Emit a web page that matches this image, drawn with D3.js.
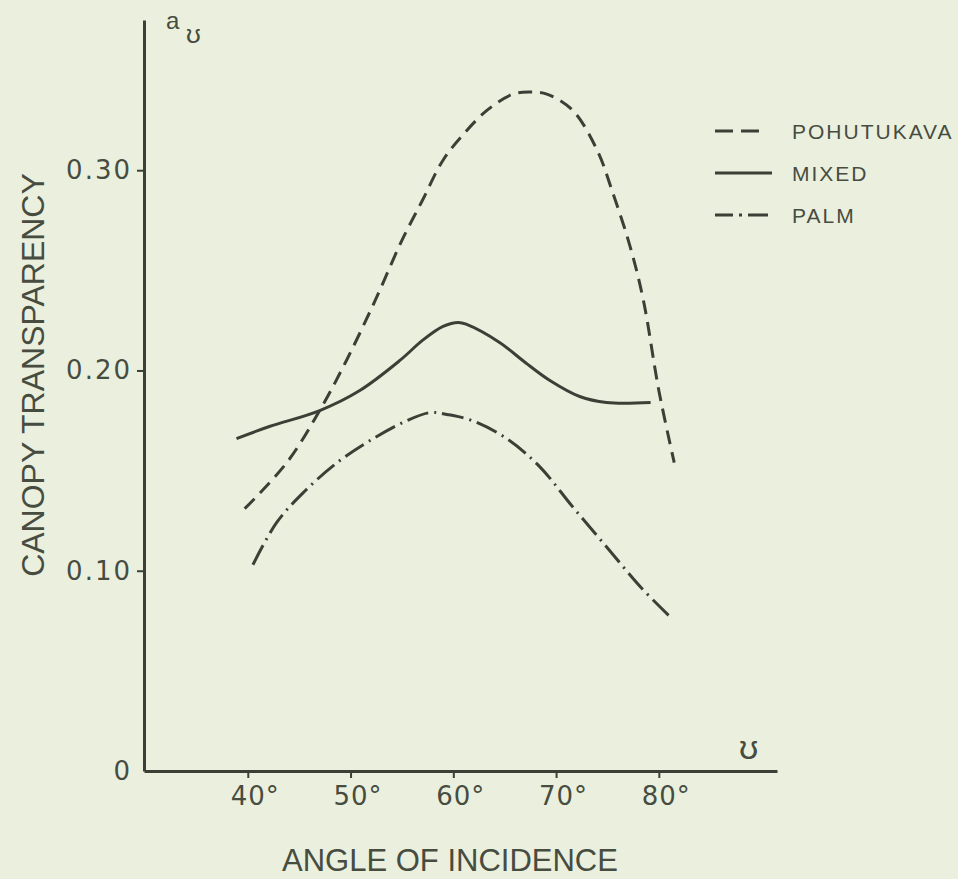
<!DOCTYPE html>
<meta charset="utf-8">
<script src="https://d3js.org/d3.v7.min.js"></script>
<style>
  body { margin: 0; background: #eaf0dd; }
  text { font-family: "Liberation Sans", Arial, sans-serif; fill: #474c41; }
</style>
<div id="my_dataviz"></div>
<script>

  // tick labels
  var xTicks = [40, 50, 60, 70, 80]
  var yTicks = [0, 0.10, 0.20, 0.30]
  var yTickLabels = ["0", "0.10", "0.20", "0.30"]

  // series names (legend order)
  var seriesNames = ["POHUTUKAVA", "MIXED", "PALM"]

  // angle (deg) and canopy transparency
  var pohutukavaAngle = [39.7, 43.8, 47, 49.6, 52.4, 55, 57, 59, 61, 63.3, 65.8, 67.4, 69.1, 71.6, 74, 75.5, 77.2, 78.5, 80, 81.5]
  var pohutukavaValue = [0.131, 0.154, 0.180, 0.205, 0.235, 0.265, 0.285, 0.305, 0.318, 0.330, 0.338, 0.339, 0.338, 0.330, 0.310, 0.289, 0.262, 0.235, 0.190, 0.154]

  var mixedAngle = [38.9, 42.1, 47, 50.9, 54.8, 57, 59, 60.5, 61.3, 64.5, 67, 69.4, 72.3, 74.9, 79.2]
  var mixedValue = [0.166, 0.172, 0.180, 0.190, 0.205, 0.215, 0.222, 0.224, 0.223, 0.214, 0.204, 0.195, 0.187, 0.184, 0.184]

  var palmAngle = [40.5, 42.8, 45.4, 48.7, 51.9, 55.5, 57.8, 59.4, 61.8, 65.2, 68.4, 71.6, 74.9, 78.2, 81.1]
  var palmValue = [0.103, 0.124, 0.139, 0.154, 0.165, 0.175, 0.179, 0.178, 0.175, 0.166, 0.152, 0.132, 0.112, 0.092, 0.077]

  var ink = "#3b4036"

  var svg = d3.select("#my_dataviz")
    .append("svg")
      .attr("width", 958)
      .attr("height", 879)

  // scales
  var x = d3.scaleLinear()
    .domain([29.9, 91.5])
    .range([144, 777])
  var y = d3.scaleLinear()
    .domain([0, 0.375])
    .range([771, 20])

  // x axis
  var xAxis = svg.append("g")
    .attr("transform", "translate(0," + y(0) + ")")
    .call(d3.axisBottom(x).tickValues(xTicks).tickSize(7).tickSizeOuter(0)
      .tickFormat(function(d){ return d + "°" }))
  xAxis.select(".domain").attr("stroke", ink).attr("stroke-width", 3)
  xAxis.selectAll(".tick line").attr("stroke", ink).attr("stroke-width", 2)
  xAxis.selectAll(".tick text")
    .attr("y", 16)
    .attr("dx", 7)
    .style("font-size", "26px")
    .style("letter-spacing", "1px")
    .style("font-family", "'DejaVu Sans', sans-serif")
    .style("fill", "#474c41")

  // y axis
  var yAxis = svg.append("g")
    .attr("transform", "translate(" + x(29.9) + ",0)")
    .call(d3.axisLeft(y).tickValues(yTicks).tickSize(7).tickSizeOuter(0)
      .tickFormat(function(d, i){ return yTickLabels[i] }))
  yAxis.select(".domain").attr("stroke", ink).attr("stroke-width", 3)
  yAxis.selectAll(".tick line").attr("stroke", ink).attr("stroke-width", 2)
    .attr("opacity", function(d){ return d === 0 ? 0 : 1 })
  yAxis.selectAll(".tick text")
    .attr("x", -12)
    .style("font-size", "26px")
    .style("letter-spacing", "2px")
    .style("font-family", "'DejaVu Sans', sans-serif")
    .style("fill", "#474c41")

  // axis titles
  svg.append("text")
    .attr("x", 450)
    .attr("y", 871)
    .attr("text-anchor", "middle")
    .style("font-size", "31px")
    .text("ANGLE OF INCIDENCE")

  svg.append("text")
    .attr("transform", "translate(44,375) rotate(-90)")
    .attr("text-anchor", "middle")
    .style("font-size", "32px")
    .text("CANOPY TRANSPARENCY")

  // symbols at the axis ends
  svg.append("text")
    .attr("x", 166)
    .attr("y", 29)
    .style("font-size", "24px")
    .text("a")
  svg.append("text")
    .attr("x", 186)
    .attr("y", 43)
    .style("font-size", "26px")
    .text("ʊ")
  svg.append("text")
    .attr("x", 739)
    .attr("y", 759)
    .style("font-size", "34px")
    .text("ʊ")

  // series
  var series = [
    {name: seriesNames[0], angle: pohutukavaAngle, value: pohutukavaValue, dash: "14,8"},
    {name: seriesNames[1], angle: mixedAngle, value: mixedValue, dash: null},
    {name: seriesNames[2], angle: palmAngle, value: palmValue, dash: "22,6,2,6"}
  ]

  var line = d3.line()
    .x(function(d){ return x(d[0]) })
    .y(function(d){ return y(d[1]) })
    .curve(d3.curveCatmullRom.alpha(0.5))

  svg.selectAll("series")
    .data(series)
    .enter()
    .append("path")
      .attr("d", function(s){ return line(s.angle.map(function(a, i){ return [a, s.value[i]] })) })
      .attr("fill", "none")
      .attr("stroke", ink)
      .attr("stroke-width", 3)
      .attr("stroke-dasharray", function(s){ return s.dash })

  // legend
  var legendDash = ["18,8,18", null, "18,6,3,6,20"]
  svg.selectAll("legendlines")
    .data(series)
    .enter()
    .append("line")
      .attr("x1", 715)
      .attr("x2", 772)
      .attr("y1", function(d, i){ return 131 + i*42 })
      .attr("y2", function(d, i){ return 131 + i*42 })
      .attr("stroke", ink)
      .attr("stroke-width", 3)
      .attr("stroke-dasharray", function(d, i){ return legendDash[i] })

  svg.selectAll("legendlabels")
    .data(series)
    .enter()
    .append("text")
      .attr("x", 792)
      .attr("y", function(d, i){ return 131 + i*42 + 8 })
      .style("font-size", "21px")
      .style("letter-spacing", "2px")
      .text(function(d){ return d.name })

</script>
